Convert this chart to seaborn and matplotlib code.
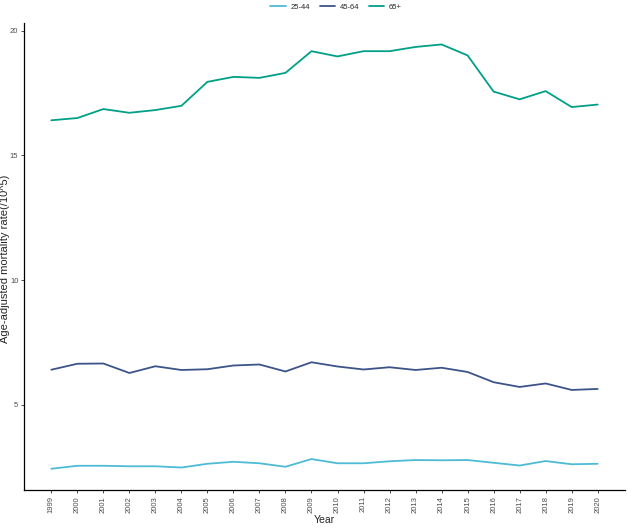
import numpy as np
import pandas as pd
import matplotlib
matplotlib.use('Agg')
import matplotlib.pyplot as plt
import seaborn as sns

years = list(range(1999, 2021))
age_groups = ['25-44', '45-64', '65+']

rate_25_44 = [2.44, 2.56, 2.56, 2.54, 2.54, 2.49, 2.64, 2.72, 2.66, 2.52, 2.83,
              2.66, 2.66, 2.74, 2.79, 2.78, 2.79, 2.68, 2.57, 2.75, 2.62, 2.64]
rate_45_64 = [6.41, 6.65, 6.66, 6.28, 6.55, 6.40, 6.43, 6.58, 6.62, 6.34, 6.71,
              6.54, 6.42, 6.51, 6.40, 6.49, 6.32, 5.91, 5.72, 5.86, 5.60, 5.64]
rate_65 = [16.41, 16.50, 16.86, 16.71, 16.82, 16.99, 17.95, 18.15, 18.11, 18.31, 19.18,
           18.97, 19.18, 19.18, 19.35, 19.45, 19.01, 17.56, 17.25, 17.58, 16.94, 17.04]

palette = ['#4DBBD5', '#3C5488', '#00A087']

df = pd.DataFrame({
    'Year': years * 3,
    'Rate': rate_25_44 + rate_45_64 + rate_65,
    'Age': [a for a in age_groups for _ in years],
})

sns.set_theme(style='ticks')
plt.rcParams['font.family'] = ['Liberation Sans', 'DejaVu Sans']

fig = plt.figure(figsize=(6.28, 5.28), dpi=100)
ax = fig.add_axes([24 / 628, 0.072, 601 / 628, 0.884])

sns.lineplot(data=df, x='Year', y='Rate', hue='Age', hue_order=age_groups,
             palette=palette, linewidth=1.3, ax=ax)

# ggplot-like 5% expansion
span_x = years[-1] - years[0]
ax.set_xlim(years[0] - 0.05 * span_x, years[-1] + 0.05 * span_x)
lo, hi = min(rate_25_44), max(rate_65)
ax.set_ylim(lo - 0.05 * (hi - lo), hi + 0.05 * (hi - lo))

ax.set_xticks(years)
ax.set_xticklabels([str(y) for y in years], rotation=90, fontsize=5.5, color='#4D4D4D')
ax.set_yticks([5, 10, 15, 20])
ax.set_yticklabels(['5', '10', '15', '20'], fontsize=5.5, color='#4D4D4D')
ax.tick_params(axis='both', length=2.5, width=0.6, color='#333333', pad=1.5)
ax.tick_params(axis='x', pad=2)

ax.set_xlabel('Year', fontsize=7.5, labelpad=1)
ax.set_ylabel('')
fig.text(5 / 628, 0.51, 'Age-adjusted mortality rate(/10^5)', rotation=90,
         ha='center', va='center', fontsize=8)

sns.despine(ax=ax)
for s in ['left', 'bottom']:
    ax.spines[s].set_linewidth(0.9)
    ax.spines[s].set_color('black')

ax.legend(title=None, loc='upper center', bbox_to_anchor=(0.535, 1.007),
          bbox_transform=fig.transFigure, ncol=3, frameon=False,
          fontsize=5.5, handlelength=2.0, columnspacing=1.3, handletextpad=0.6)

fig.savefig('out.png', dpi=100)
